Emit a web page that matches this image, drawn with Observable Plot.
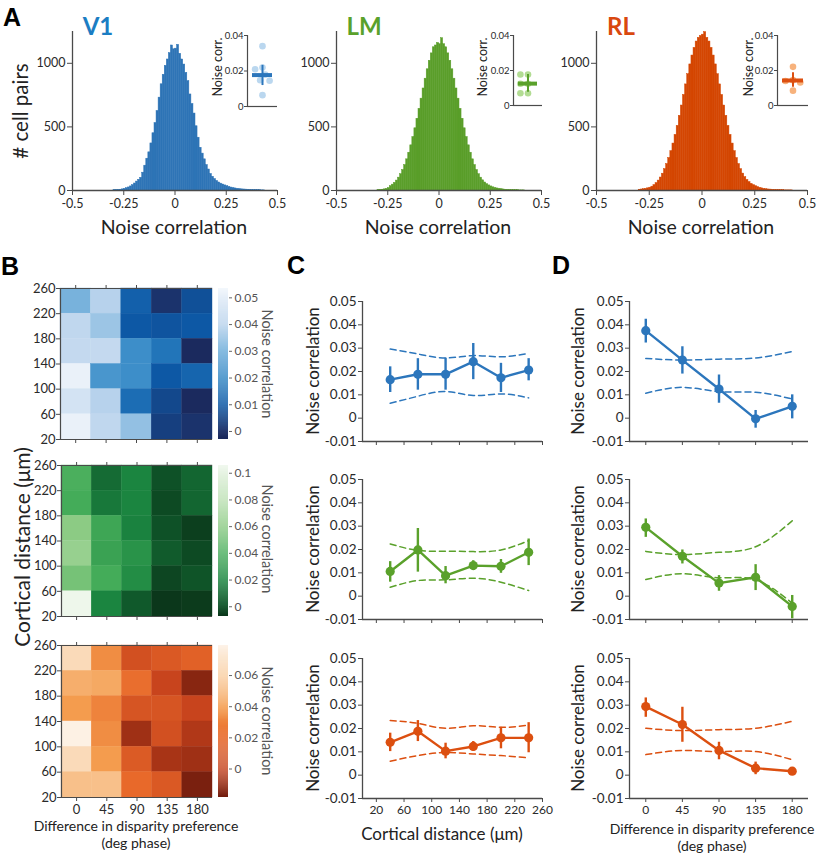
<!DOCTYPE html>
<html><head><meta charset="utf-8">
<script src="https://cdn.jsdelivr.net/npm/d3@7"></script>
<script src="https://cdn.jsdelivr.net/npm/@observablehq/plot@0.6"></script>
<style>
body{margin:0;background:#fff;}
#fig{position:relative;width:820px;height:857px;overflow:hidden;font-family:Lato,"Open Sans",sans-serif;color:#222;background:#fff;}
.lbl{position:absolute;white-space:nowrap;line-height:1;text-align:center;}
</style></head><body><div id="fig"></div>
<script>
// ---------------- DATA ----------------
// Panel A: histograms of noise correlation (bins of 0.01 starting at -0.30)
const histBinStart = -0.30;
const histBinWidth = 0.01;
const histV1 = [2,3,4,6,9,13,18,24,32,42,
 55,70,84,100,140,195,250,300,370,450,
 530,625,730,835,910,980,1030,1080,1140,1110,
 1115,1145,1075,1030,990,925,860,755,680,605,
 505,415,336,290,245,200,165,130,108,90,
 75,63,54,47,40,34,28,23,19,16,
 13,11,9,8,7,6,5,4,3,3,
 2,2,1,1,0];
const histLM = [3,4,6,9,13,19,34,46,60,78,
 101,128,161,200,245,297,355,420,489,564,
 642,722,802,879,953,1020,1078,1126,1140,1160,
 1150,1197,1150,1126,1078,1020,953,879,802,722,
 642,564,489,420,355,297,245,200,161,128,
 101,80,63,50,40,32,25,20,16,13,
 10,8,6,5,4,3,3,2,2,1,
 1,1,0,0,0];
const histRL = [6,8,10,13,17,22,30,42,58,78,
 102,132,168,208,255,309,369,437,508,587,
 668,751,834,914,991,1061,1121,1171,1200,1215,
 1225,1245,1200,1171,1121,1061,991,914,834,751,
 668,587,508,437,369,309,255,208,168,133,
 105,83,66,52,42,34,27,21,17,13,
 10,8,7,5,4,3,3,2,2,1,
 1,1,1,0,0];
const histXTicks = [-0.5, -0.25, 0, 0.25, 0.5];
const histYTicks = [0, 500, 1000];
// Panel A insets: per-animal mean noise correlation
const insetV1 = [0.034, 0.022, 0.021, 0.018, 0.0148, 0.0145, 0.0064];
const insetLM = [0.0177, 0.0177, 0.0124, 0.0124, 0.007, 0.007];
const insetRL = [0.0221, 0.0145, 0.014, 0.0132, 0.0085];
const insetStatsV1 = {mean: 0.0177, lo: 0.0118, hi: 0.0232};
const insetStatsLM = {mean: 0.0125, lo: 0.0076, hi: 0.0177};
const insetStatsRL = {mean: 0.0143, lo: 0.0104, hi: 0.0187};
const insetTicks = [0, 0.02, 0.04];

// Panel B: heatmaps, rows = cortical distance bins (top → bottom), cols = disparity difference
const distLower = [220, 180, 140, 100, 60, 20];
const distTicks = [20, 60, 100, 140, 180, 220, 260];
const dispBins = [0, 45, 90, 135, 180];
const hmV1 = [
 [0.032, 0.039, 0.012, 0.001, 0.008],
 [0.040, 0.036, 0.010, 0.009, 0.010],
 [0.041, 0.041, 0.023, 0.017, -0.002],
 [0.051, 0.025, 0.023, 0.010, 0.013],
 [0.045, 0.039, 0.015, 0.006, -0.002],
 [0.051, 0.040, 0.035, 0.004, 0.001]];
const hmLM = [
 [0.042, 0.010, 0.020, 0.000, 0.008],
 [0.040, 0.015, 0.020, -0.002, 0.008],
 [0.060, 0.037, 0.019, 0.000, -0.005],
 [0.064, 0.035, 0.027, 0.004, -0.002],
 [0.054, 0.040, 0.024, -0.003, 0.001],
 [0.104, 0.020, 0.003, -0.007, -0.006]];
const hmRL = [
 [0.066, 0.034, 0.008, 0.012, 0.016],
 [0.047, 0.045, 0.022, 0.002, -0.013],
 [0.040, 0.030, 0.010, 0.010, 0.002],
 [0.078, 0.034, -0.008, 0.008, -0.004],
 [0.066, 0.040, 0.013, -0.006, -0.008],
 [0.054, 0.054, 0.020, 0.012, -0.016]];
const cbTicksV1 = [0, 0.01, 0.02, 0.03, 0.04, 0.05];
const cbTicksLM = [0, 0.02, 0.04, 0.06, 0.08, 0.1];
const cbTicksRL = [0, 0.02, 0.04, 0.06];

// Panel C: noise correlation vs cortical distance
const distCenters = [40, 80, 120, 160, 200, 240];
const cMeanV1 = [0.0165, 0.0188, 0.0188, 0.0242, 0.0173, 0.0206];
const cLoV1   = [0.011, 0.012, 0.012, 0.0165, 0.011, 0.016];
const cHiV1   = [0.022, 0.0255, 0.0257, 0.032, 0.0235, 0.0255];
const cShufHiV1 = [0.0296, 0.0275, 0.0258, 0.0268, 0.0263, 0.0278];
const cShufLoV1 = [0.0064, 0.0094, 0.0114, 0.0097, 0.0104, 0.0087];
const cMeanLM = [0.0106, 0.0198, 0.0088, 0.0131, 0.0128, 0.0188];
const cLoLM   = [0.006, 0.0103, 0.0053, 0.011, 0.0098, 0.0131];
const cHiLM   = [0.0148, 0.029, 0.0127, 0.0152, 0.0157, 0.0245];
const cShufHiLM = [0.0224, 0.0196, 0.0193, 0.0191, 0.0198, 0.0238];
const cShufLoLM = [0.0038, 0.0067, 0.007, 0.0077, 0.006, 0.0024];
const cMeanRL = [0.0141, 0.0188, 0.0103, 0.0123, 0.016, 0.016];
const cLoRL   = [0.0101, 0.0144, 0.007, 0.0103, 0.0113, 0.0096];
const cHiRL   = [0.018, 0.0234, 0.0137, 0.0144, 0.0205, 0.0225];
const cShufHiRL = [0.0234, 0.0222, 0.0201, 0.0212, 0.0205, 0.0215];
const cShufLoRL = [0.006, 0.0084, 0.0097, 0.0091, 0.0084, 0.0074];
const cXTicks = [20, 60, 100, 140, 180, 220, 260];

// Panel D: noise correlation vs difference in disparity preference
const dMeanV1 = [0.0375, 0.0249, 0.0125, -0.0003, 0.0051];
const dLoV1   = [0.0322, 0.0189, 0.0064, -0.0043, -0.0003];
const dHiV1   = [0.0424, 0.0306, 0.0185, 0.0033, 0.0100];
const dShufHiV1 = [0.0256, 0.0249, 0.0253, 0.0258, 0.0286];
const dShufLoV1 = [0.0107, 0.0132, 0.0114, 0.0111, 0.0082];
const dMeanLM = [0.0295, 0.0171, 0.0056, 0.0081, -0.0044];
const dLoLM   = [0.0252, 0.0138, 0.0021, 0.0024, -0.0097];
const dHiLM   = [0.0331, 0.0198, 0.0088, 0.0135, 0.0003];
const dShufHiLM = [0.0192, 0.0178, 0.0188, 0.0212, 0.0323];
const dShufLoLM = [0.0071, 0.0096, 0.0079, 0.0070, -0.003];
const dMeanRL = [0.0294, 0.0217, 0.0106, 0.003, 0.0017];
const dLoRL   = [0.0248, 0.0141, 0.0066, 0.0002, 0.0008];
const dHiRL   = [0.0331, 0.0291, 0.0141, 0.0056, 0.0027];
const dShufHiRL = [0.0201, 0.0191, 0.0195, 0.0201, 0.0231];
const dShufLoRL = [0.0088, 0.0106, 0.0101, 0.0101, 0.0066];
const ncTicks = [-0.01, 0, 0.01, 0.02, 0.03, 0.04, 0.05];

// ---------------- STYLE ----------------
const col = {
  V1: {main: "#2c76bc", hist: "#2e74b6", light: "#bad7ef", title: "#1b7dc3"},
  LM: {main: "#5aa12b", hist: "#5a9e2a", light: "#b2dc93", title: "#5aa12b"},
  RL: {main: "#dc4f10", hist: "#d44602", light: "#f7b27c", title: "#d9480f"}
};
const axisColor = "#4a4a4a";
const FONT = "Lato, 'Open Sans', sans-serif";
const fig = document.getElementById("fig");
const fmt = d => d === 0 ? "0" : String(+d.toFixed(3));

function mk(box, m, opts) {
  const w = Math.round(box.x1 - box.x0 + m.l + m.r), h = Math.round(box.y1 - box.y0 + m.t + m.b);
  const p = Plot.plot({
    width: w, height: h, marginLeft: m.l, marginRight: m.r, marginTop: m.t, marginBottom: m.b,
    style: {fontFamily: FONT, fontSize: "13px", color: "#2a2a2a", background: "transparent", overflow: "visible"},
    ...opts
  });
  p.style.position = "absolute";
  p.style.left = (box.x0 - m.l) + "px";
  p.style.top = (box.y0 - m.t) + "px";
  fig.appendChild(p);
  return p;
}
function txt(s, cx, cy, o = {}) {
  const d = document.createElement("div");
  d.className = "lbl";
  d.textContent = s;
  d.style.left = cx + "px";
  d.style.top = cy + "px";
  d.style.fontSize = (o.size || 16) + "px";
  d.style.fontWeight = o.weight || 400;
  d.style.fontFamily = o.family || FONT;
  d.style.color = o.color || "#222";
  d.style.transform = `translate(-50%,-50%) rotate(${o.rot || 0}deg)`;
  fig.appendChild(d);
}

// ---------------- PANEL A ----------------
function hist(counts, c, box) {
  const data = counts.map((v, i) => ({x1: histBinStart + i * histBinWidth, x2: histBinStart + (i + 1) * histBinWidth, y: v}));
  mk(box, {l: 48, r: 14, t: 8, b: 30}, {
    x: {domain: [-0.5, 0.5]},
    y: {domain: [0, 1250]},
    marks: [
      Plot.rectY(data, {x1: "x1", x2: "x2", y: "y", fill: c, stroke: c, strokeWidth: 0.5, inset: 0}),
      Plot.ruleX([-0.5], {stroke: axisColor, strokeWidth: 1.3}),
      Plot.ruleY([0], {stroke: axisColor, strokeWidth: 1.3}),
      Plot.axisX({ticks: histXTicks, tickFormat: d => String(d), tickSize: 5, tickPadding: 4, fontSize: 12.5, label: null, stroke: axisColor}),
      Plot.axisY({ticks: histYTicks, tickFormat: d => String(d), tickSize: 5, tickPadding: 2, fontSize: 12.5, label: null, stroke: axisColor})
    ]
  });
}
function inset(pts, stats, c, box) {
  mk(box, {l: 30, r: 2, t: 6, b: 4}, {
    x: {domain: [0, 1], axis: null},
    y: {domain: [0, 0.04]},
    marks: [
      Plot.ruleX([0], {stroke: axisColor, strokeWidth: 1.2}),
      Plot.ruleY([0], {stroke: axisColor, strokeWidth: 1.2}),
      Plot.dot(pts, Plot.dodgeX("middle", {y: d => d, r: 3.3, fill: c.light, padding: 4})),
      Plot.ruleX([stats], {x: () => 0.5, y1: "lo", y2: "hi", stroke: c.main, strokeWidth: 2}),
      Plot.tickY([stats], {y: "mean", stroke: c.main, strokeWidth: 4, insetLeft: 5, insetRight: 5}),
      Plot.axisY({ticks: insetTicks, tickFormat: fmt, tickSize: 3, tickPadding: 1, fontSize: 9.5, label: null, stroke: axisColor})
    ]
  });
}
hist(histV1, col.V1.hist, {x0: 72, x1: 277, y0: 31, y1: 190});
hist(histLM, col.LM.hist, {x0: 336, x1: 541, y0: 31, y1: 190});
hist(histRL, col.RL.hist, {x0: 596, x1: 807, y0: 31, y1: 190});
inset(insetV1, insetStatsV1, col.V1, {x0: 247, x1: 277, y0: 35, y1: 106});
inset(insetLM, insetStatsLM, col.LM, {x0: 513, x1: 542, y0: 35, y1: 105});
inset(insetRL, insetStatsRL, col.RL, {x0: 777, x1: 808, y0: 35, y1: 105});

// ---------------- PANEL B ----------------
const colorV1 = {type: "linear", interpolate: "rgb",
  domain: [-0.003, 0, 0.01, 0.02, 0.03, 0.04, 0.0535],
  range: ["#1b275a", "#1c2f66", "#0d58a5", "#2b82c2", "#66a9d8", "#c0d7ee", "#f3f7fc"]};
const colorLM = {type: "linear", interpolate: "rgb",
  domain: [-0.0073, 0, 0.02, 0.04, 0.06, 0.08, 0.1058],
  range: ["#0b361a", "#0e5127", "#1b8540", "#44ac59", "#8ccb84", "#c4e4bc", "#f1f8ef"]};
const colorRL = {type: "linear", interpolate: "rgb",
  domain: [-0.0183, 0, 0.02, 0.04, 0.06, 0.0793],
  range: ["#6f1b0d", "#c4401b", "#e8692a", "#f49c4e", "#f9cfa3", "#fdf3e9"]};

function heatmap(grid, colorOpts, box, showX) {
  const cells = [];
  distLower.forEach((r, i) => dispBins.forEach((d, j) => cells.push({d, r, v: grid[i][j]})));
  mk(box, {l: 45, r: 4, t: 10, b: 26}, {
    x: {domain: [-22.5, 202.5]},
    y: {domain: [20, 260]},
    color: colorOpts,
    marks: [
      Plot.rect(cells, {x1: c => c.d - 22.5, x2: c => c.d + 22.5, y1: "r", y2: c => c.r + 40, fill: "v", inset: 0, stroke: "v", strokeWidth: 0.4}),
      Plot.ruleY([20, 260], {stroke: axisColor, strokeWidth: 1.2}),
      Plot.ruleX([-22.5], {stroke: axisColor, strokeWidth: 1.2}),
      Plot.axisY({ticks: distTicks, tickSize: 4, tickPadding: 1, fontSize: 13, label: null, stroke: axisColor}),
      Plot.axisX({ticks: dispBins, anchor: "bottom", tickSize: 4, tickPadding: 3, fontSize: 13, label: null, stroke: axisColor,
        tickFormat: showX ? (d => String(d)) : (() => "")}),
      Plot.axisX({ticks: dispBins, anchor: "top", tickSize: 4, tickFormat: () => "", label: null, stroke: axisColor})
    ]
  });
}
function colorbar(colorOpts, ticks, box) {
  const lo = colorOpts.domain[0], hi = colorOpts.domain[colorOpts.domain.length - 1];
  const n = 150, step = (hi - lo) / n;
  const strips = d3.range(n).map(i => lo + i * step);
  mk(box, {l: 2, r: 40, t: 5, b: 5}, {
    x: {domain: [0, 1], axis: null},
    y: {domain: [lo, hi]},
    color: colorOpts,
    marks: [
      Plot.rect(strips, {x1: 0, x2: 1, y1: d => d, y2: d => d + step * 1.05, fill: d => d + step / 2, inset: 0}),
      Plot.axisY({anchor: "right", ticks, tickFormat: fmt, tickSize: 3, tickPadding: 3, fontSize: 12, label: null, stroke: "#666", fill: "#555"})
    ]
  });
}
heatmap(hmV1, colorV1, {x0: 60, x1: 212, y0: 288, y1: 439}, false);
heatmap(hmLM, colorLM, {x0: 61, x1: 212, y0: 465, y1: 616}, false);
heatmap(hmRL, colorRL, {x0: 61, x1: 212, y0: 645, y1: 797}, true);
colorbar(colorV1, cbTicksV1, {x0: 218, x1: 228, y0: 288, y1: 439});
colorbar(colorLM, cbTicksLM, {x0: 218, x1: 228, y0: 465, y1: 616});
colorbar(colorRL, cbTicksRL, {x0: 218, x1: 228, y0: 645, y1: 797});

// ---------------- PANELS C & D ----------------
function lineplot(xs, mean, lo, hi, sHi, sLo, c, box, xDomain, xTicks, showX) {
  const rows = xs.map((x, i) => ({x, m: mean[i], lo: lo[i], hi: hi[i], sHi: sHi[i], sLo: sLo[i]}));
  mk(box, {l: 55, r: 10, t: 8, b: 28}, {
    x: {domain: xDomain},
    y: {domain: [-0.01, 0.05]},
    marks: [
      Plot.line(rows, {x: "x", y: "sHi", curve: "natural", stroke: c, strokeWidth: 1.5, strokeDasharray: "6,4"}),
      Plot.line(rows, {x: "x", y: "sLo", curve: "natural", stroke: c, strokeWidth: 1.5, strokeDasharray: "6,4"}),
      Plot.ruleX(rows, {x: "x", y1: "lo", y2: "hi", stroke: c, strokeWidth: 2.4}),
      Plot.line(rows, {x: "x", y: "m", stroke: c, strokeWidth: 2.4}),
      Plot.dot(rows, {x: "x", y: "m", r: 4.6, fill: c}),
      Plot.ruleX([xDomain[0]], {stroke: axisColor, strokeWidth: 1.3}),
      Plot.ruleY([-0.01], {stroke: axisColor, strokeWidth: 1.3}),
      Plot.axisY({ticks: ncTicks, tickFormat: fmt, tickSize: 4, tickPadding: 2, fontSize: 13.5, label: null, stroke: axisColor}),
      Plot.axisX({ticks: xTicks, tickSize: 4, tickPadding: 3, fontSize: 12, label: null, stroke: axisColor,
        tickFormat: showX ? (d => String(d)) : (() => "")})
    ]
  });
}
const rowsY = [{y0: 301, y1: 441}, {y0: 479, y1: 619}, {y0: 658, y1: 798}];
lineplot(distCenters, cMeanV1, cLoV1, cHiV1, cShufHiV1, cShufLoV1, col.V1.main, {x0: 362, x1: 542, ...rowsY[0]}, [0, 260], cXTicks, false);
lineplot(distCenters, cMeanLM, cLoLM, cHiLM, cShufHiLM, cShufLoLM, col.LM.main, {x0: 362, x1: 542, ...rowsY[1]}, [0, 260], cXTicks, false);
lineplot(distCenters, cMeanRL, cLoRL, cHiRL, cShufHiRL, cShufLoRL, col.RL.main, {x0: 362, x1: 542, ...rowsY[2]}, [0, 260], cXTicks, true);
lineplot(dispBins, dMeanV1, dLoV1, dHiV1, dShufHiV1, dShufLoV1, col.V1.main, {x0: 629, x1: 808, ...rowsY[0]}, [-20, 200], dispBins, false);
lineplot(dispBins, dMeanLM, dLoLM, dHiLM, dShufHiLM, dShufLoLM, col.LM.main, {x0: 629, x1: 808, ...rowsY[1]}, [-20, 200], dispBins, false);
lineplot(dispBins, dMeanRL, dLoRL, dHiRL, dShufHiRL, dShufLoRL, col.RL.main, {x0: 629, x1: 808, ...rowsY[2]}, [-20, 200], dispBins, true);

// ---------------- TEXT ----------------
const bold = {weight: 700, family: "'Liberation Sans', Arial, sans-serif", size: 25, color: "#000"};
txt("A", 12, 17, bold);
txt("B", 10, 266, bold);
txt("C", 296, 265, bold);
txt("D", 561, 265, bold);
txt("V1", 98, 26, {size: 24, weight: 700, color: col.V1.title});
txt("LM", 364, 26, {size: 24, weight: 700, color: col.LM.title});
txt("RL", 621, 26, {size: 24, weight: 700, color: col.RL.title});
txt("# cell pairs", 20, 111, {size: 20.5, rot: -90});
txt("Noise correlation", 174, 227, {size: 19.5});
txt("Noise correlation", 438, 227, {size: 19.5});
txt("Noise correlation", 701, 227, {size: 19.5});
txt("Noise corr.", 218, 67, {size: 12.5, rot: -90});
txt("Noise corr.", 483, 67, {size: 12.5, rot: -90});
txt("Noise corr.", 749, 67, {size: 12.5, rot: -90});
txt("Noise correlation", 267, 364, {size: 14.5, rot: 90, color: "#555"});
txt("Noise correlation", 267, 539, {size: 14.5, rot: 90, color: "#555"});
txt("Noise correlation", 267, 721, {size: 14.5, rot: 90, color: "#555"});
txt("Cortical distance (μm)", 21, 547, {size: 21, rot: -90});
txt("Difference in disparity preference", 136, 826, {size: 14});
txt("(deg phase)", 136, 843, {size: 14});
txt("Difference in disparity preference", 712, 829, {size: 14});
txt("(deg phase)", 712, 846, {size: 14});
txt("Cortical distance (μm)", 442, 833, {size: 17});
[371, 549, 728].forEach(cy => {
  txt("Noise correlation", 312, cy, {size: 17, rot: -90});
  txt("Noise correlation", 577, cy, {size: 17, rot: -90});
});
</script></body></html>
